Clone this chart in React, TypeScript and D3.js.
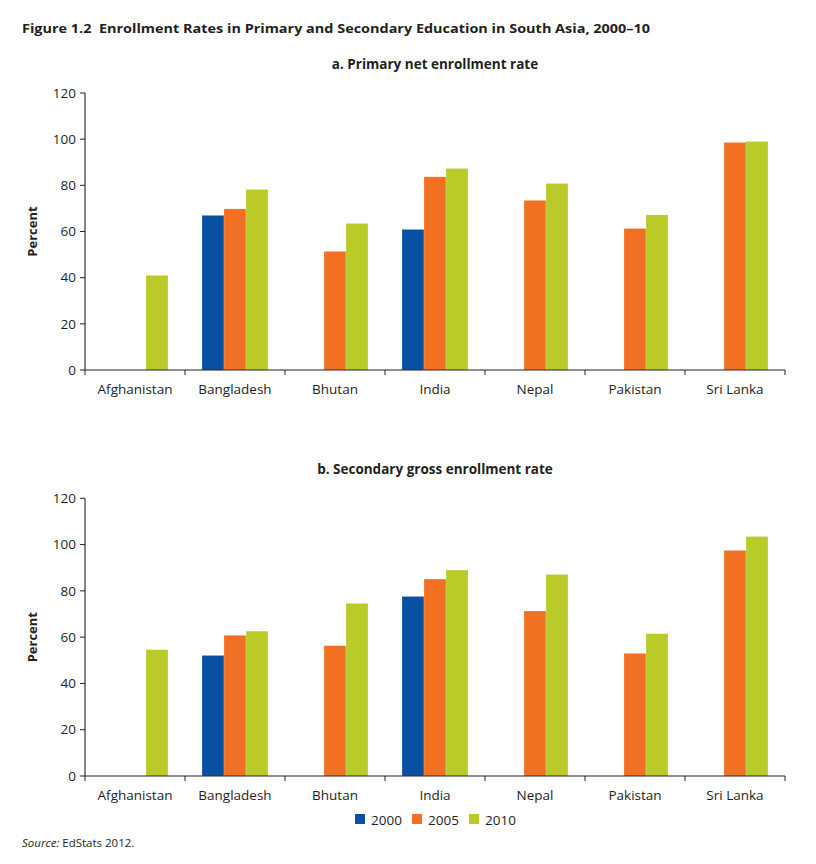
import React from "react";
import * as d3 from "d3";

const countries = ["Afghanistan", "Bangladesh", "Bhutan", "India", "Nepal", "Pakistan", "Sri Lanka"];
const years = ["2000", "2005", "2010"];
const colors = ["#0750A2", "#F27022", "#B9CA29"];
const yTicks = [0, 20, 40, 60, 80, 100, 120];

// Panel a: primary net enrollment rate
const primary2000: (number | null)[] = [null, 67.0, null, 60.9, null, null, null];
const primary2005: (number | null)[] = [null, 69.8, 51.4, 83.7, 73.5, 61.3, 98.6];
const primary2010: (number | null)[] = [41.0, 78.2, 63.5, 87.3, 80.8, 67.2, 99.0];

// Panel b: secondary gross enrollment rate
const secondary2000: (number | null)[] = [null, 52.1, null, 77.6, null, null, null];
const secondary2005: (number | null)[] = [null, 60.8, 56.3, 85.1, 71.3, 53.0, 97.5];
const secondary2010: (number | null)[] = [54.6, 62.6, 74.6, 89.0, 87.1, 61.5, 103.5];

const FONT = "'Open Sans', 'DejaVu Sans', sans-serif";
const AXIS = "#231F20";

type PanelProps = {
  title: string;
  series: (number | null)[][];
  zeroY: number;
  topY: number;
};

function Panel({ title, series, zeroY, topY }: PanelProps) {
  const left = 85;
  const right = 785;
  const x = d3.scaleBand<string>().domain(countries).range([left, right]).paddingInner(0).paddingOuter(0);
  const groupW = 66;
  const xs = d3.scaleBand<string>().domain(years).range([0, groupW]).padding(0);
  const y = d3.scaleLinear().domain([0, 120]).range([zeroY, topY]);
  const tickEdges = countries.map((c) => x(c) as number).concat([right]);

  return (
    <g>
      <text x={435} y={topY - 24} textAnchor="middle" fontFamily={FONT} fontWeight={700} fontSize={13.5} fill={AXIS}>
        {title}
      </text>
      <text
        transform={`translate(37,${(zeroY + topY) / 2}) rotate(-90)`}
        textAnchor="middle"
        fontFamily={FONT}
        fontWeight={700}
        fontSize={13}
        fill={AXIS}
      >
        Percent
      </text>
      {series.map((vals, si) =>
        vals.map((v, ci) => {
          if (v == null) return null;
          const c = countries[ci];
          const bx = (x(c) as number) + (x.bandwidth() - groupW) / 2 + (xs(years[si]) as number);
          return (
            <rect
              key={`${si}-${ci}`}
              x={bx}
              y={y(v)}
              width={xs.bandwidth()}
              height={zeroY - y(v)}
              fill={colors[si]}
              stroke="#ffffff"
              strokeOpacity={0.35}
              strokeWidth={0.6}
            />
          );
        })
      )}
      <line x1={left} x2={left} y1={topY} y2={zeroY} stroke={AXIS} strokeWidth={1.1} />
      <line x1={left} x2={right} y1={zeroY} y2={zeroY} stroke={AXIS} strokeWidth={1.1} />
      {yTicks.map((t) => (
        <g key={t}>
          <line x1={left - 5} x2={left} y1={y(t)} y2={y(t)} stroke={AXIS} strokeWidth={1} />
          <text x={left - 9} y={y(t)} dy="0.35em" textAnchor="end" fontFamily={FONT} fontSize={13.5} fill={AXIS}>
            {t}
          </text>
        </g>
      ))}
      {tickEdges.map((tx, i) => (
        <line key={i} x1={tx} x2={tx} y1={zeroY} y2={zeroY + 5} stroke={AXIS} strokeWidth={1} />
      ))}
      {countries.map((c) => (
        <text
          key={c}
          x={(x(c) as number) + x.bandwidth() / 2}
          y={zeroY + 24}
          textAnchor="middle"
          fontFamily={FONT}
          fontSize={13.5}
          fill={AXIS}
        >
          {c}
        </text>
      ))}
    </g>
  );
}

export default function App() {
  const legendX = [355, 412, 469];
  return (
    <svg
      width={816}
      height={864}
      viewBox="0 0 816 864"
      style={{ position: "absolute", left: 0, top: 0, background: "#fff" }}
    >
      <rect width={816} height={864} fill="#fff" />
      <text
        x={22}
        y={33}
        fontFamily={FONT}
        fontWeight={700}
        fontSize={13}
        fill={AXIS}
        textLength={628}
        lengthAdjust="spacingAndGlyphs"
      >
        Figure 1.2{"\u00A0\u00A0"}Enrollment Rates in Primary and Secondary Education in South Asia, 2000–10
      </text>
      <Panel
        title="a. Primary net enrollment rate"
        series={[primary2000, primary2005, primary2010]}
        zeroY={370}
        topY={93}
      />
      <Panel
        title="b. Secondary gross enrollment rate"
        series={[secondary2000, secondary2005, secondary2010]}
        zeroY={776}
        topY={498.3}
      />
      {years.map((yr, i) => (
        <g key={yr}>
          <rect x={legendX[i]} y={814} width={10} height={10} fill={colors[i]} />
          <text x={legendX[i] + 16} y={824.5} fontFamily={FONT} fontSize={13.5} fill={AXIS}>
            {yr}
          </text>
        </g>
      ))}
      <text x={22} y={847} fontFamily={FONT} fontSize={11.5} fill={AXIS}>
        <tspan fontStyle="italic">Source:</tspan> EdStats 2012.
      </text>
    </svg>
  );
}
